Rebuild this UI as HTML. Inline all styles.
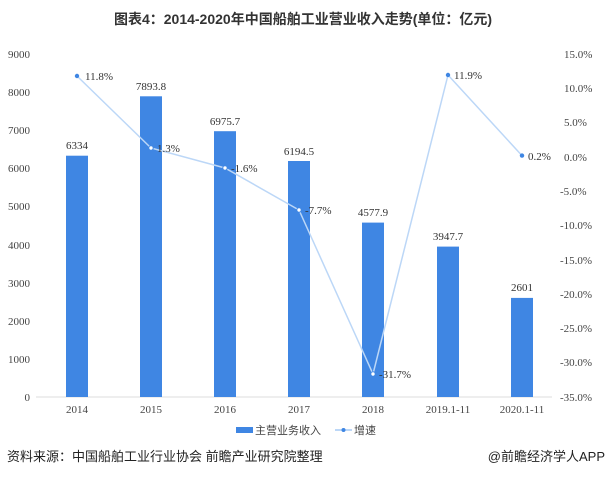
<!DOCTYPE html><html><head><meta charset="utf-8"><style>
body{margin:0;background:#fff;width:607px;height:477px;overflow:hidden;font-family:"Liberation Sans","Noto Sans CJK SC",sans-serif}
</style></head><body>
<svg width="607" height="477" xmlns="http://www.w3.org/2000/svg">
<text x="303" y="24" text-anchor="middle" font-size="14" font-weight="bold" fill="#333" font-family="Liberation Sans,Noto Sans CJK SC,sans-serif">图表4：2014-2020年中国船舶工业营业收入走势(单位：亿元)</text>
<g font-family="Liberation Serif,Noto Serif CJK SC,serif" font-size="11" fill="#444">
<text x="30" y="58" text-anchor="end">9000</text>
<text x="30" y="96" text-anchor="end">8000</text>
<text x="30" y="134" text-anchor="end">7000</text>
<text x="30" y="172" text-anchor="end">6000</text>
<text x="30" y="210" text-anchor="end">5000</text>
<text x="30" y="249" text-anchor="end">4000</text>
<text x="30" y="287" text-anchor="end">3000</text>
<text x="30" y="325" text-anchor="end">2000</text>
<text x="30" y="363" text-anchor="end">1000</text>
<text x="30" y="401" text-anchor="end">0</text>
<g text-anchor="start">
<text x="564" y="58">15.0%</text><text x="564" y="92">10.0%</text><text x="564" y="126">5.0%</text><text x="564" y="161">0.0%</text>
<text x="560" y="195">-5.0%</text><text x="560" y="229">-10.0%</text><text x="560" y="264">-15.0%</text><text x="560" y="298">-20.0%</text>
<text x="560" y="332">-25.0%</text><text x="560" y="366">-30.0%</text><text x="560" y="401">-35.0%</text>
</g>
</g>
<line x1="36" y1="397" x2="552" y2="397" stroke="#ddd"/>
<g fill="#3f86e3">
<rect x="66" y="155.7" width="22" height="241.3"/>
<rect x="140" y="96.3" width="22" height="300.7"/>
<rect x="214" y="131.2" width="22" height="265.8"/>
<rect x="288" y="161" width="22" height="236"/>
<rect x="362" y="222.6" width="22" height="174.4"/>
<rect x="437" y="246.6" width="22" height="150.4"/>
<rect x="511" y="297.9" width="22" height="99.1"/>
</g>
<g font-family="Liberation Serif,Noto Serif CJK SC,serif" font-size="11" fill="#333" text-anchor="middle">
<text x="77" y="149">6334</text><text x="151" y="90">7893.8</text><text x="225" y="125">6975.7</text>
<text x="299" y="155">6194.5</text><text x="373" y="216">4577.9</text><text x="448" y="240">3947.7</text><text x="522" y="291">2601</text>
</g>
<polyline points="77,76 151,148 225,168 299,210 373,374 448,75 522,155.6" fill="none" stroke="#bcd7f7" stroke-width="1.5"/>
<g fill="#3f86e3">
<circle cx="77" cy="76" r="2.2"/><circle cx="151" cy="148" r="2.2" fill="#fff" stroke="#3f86e3"/><circle cx="225" cy="168" r="2.2" fill="#fff" stroke="#3f86e3"/>
<circle cx="299" cy="210" r="2.2" fill="#fff" stroke="#3f86e3"/><circle cx="373" cy="374" r="2.2" fill="#fff" stroke="#3f86e3"/><circle cx="448" cy="75" r="2.2"/><circle cx="522" cy="155.6" r="2.2"/>
</g>
<g font-family="Liberation Serif,Noto Serif CJK SC,serif" font-size="11" fill="#333">
<text x="85" y="80">11.8%</text><text x="157" y="152">1.3%</text><text x="231" y="172">-1.6%</text>
<text x="305" y="214">-7.7%</text><text x="379" y="378">-31.7%</text><text x="454" y="79">11.9%</text><text x="528" y="160">0.2%</text>
</g>
<g font-family="Liberation Serif,Noto Serif CJK SC,serif" font-size="11" fill="#444" text-anchor="middle">
<text x="77" y="413">2014</text><text x="151" y="413">2015</text><text x="225" y="413">2016</text><text x="299" y="413">2017</text>
<text x="373" y="413">2018</text><text x="448" y="413">2019.1-11</text><text x="522" y="413">2020.1-11</text>
</g>
<rect x="236" y="427" width="17" height="6" fill="#3f86e3"/>
<text x="255" y="434" font-size="11" fill="#444">主营业务收入</text>
<line x1="335" y1="430" x2="352" y2="430" stroke="#bcd7f7" stroke-width="2"/><circle cx="343.5" cy="430" r="2" fill="#3f86e3"/>
<text x="354" y="434" font-size="11" fill="#444">增速</text>
<text x="7" y="461" font-size="13" fill="#222">资料来源：中国船舶工业行业协会 前瞻产业研究院整理</text>
<text x="605" y="461" font-size="13" fill="#222" text-anchor="end">@前瞻经济学人APP</text>
</svg>
</body></html>
